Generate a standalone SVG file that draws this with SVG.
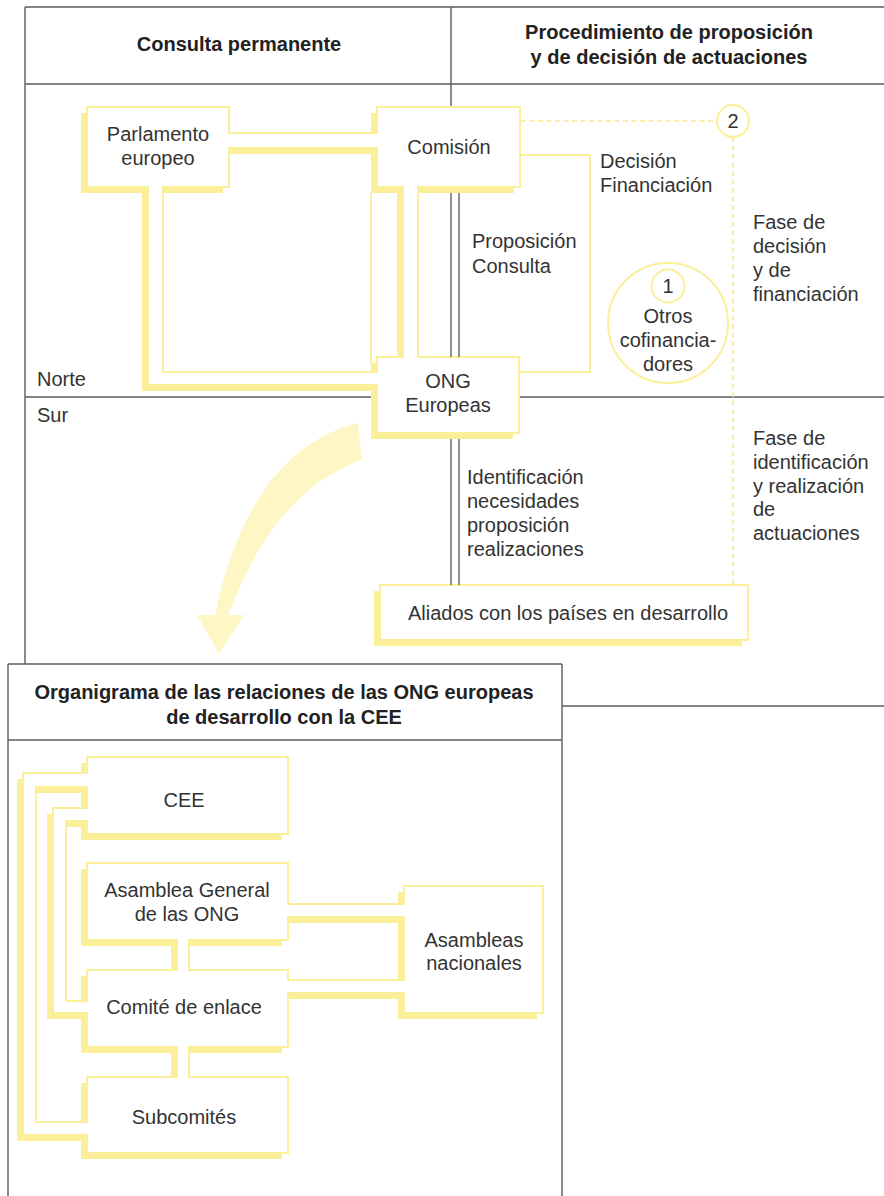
<svg xmlns="http://www.w3.org/2000/svg" width="884" height="1196" viewBox="0 0 884 1196">
<style>
.t{font-family:"Liberation Sans",Arial,sans-serif;font-size:20px;fill:#333}
.h{font-family:"Liberation Sans",Arial,sans-serif;font-size:20px;font-weight:bold;fill:#222}
.c{text-anchor:middle}
.fr{stroke:#5c5c5c;stroke-width:1.4;fill:none}
.sh{fill:#fcef99}
.bx{fill:#fff;stroke:#fcef99;stroke-width:2}
.y{fill:#fcef99}
.w{fill:#fff}
.yl{fill:none;stroke:#fcef99;stroke-width:2}
.ds{fill:none;stroke:#f8e88c;stroke-width:1.6;stroke-dasharray:5 3.5}
.dl{stroke:#555;stroke-width:1.3;fill:none}
</style>
<rect width="884" height="1196" fill="#fff"/>
<g id="frame" class="fr">
<path d="M25,7H884M25,84H884M451,7V108M25,7V664M25,397H884M562,706H884M8,664H562M8,664V1196M562,664V1196M8,740H562"/>
</g>
<g id="headers">
<text class="h c" x="239" y="51">Consulta permanente</text>
<text class="h c" x="669" y="39">Procedimiento de proposición</text>
<text class="h c" x="669" y="64">y de decisión de actuaciones</text>
<text class="h c" x="284" y="699">Organigrama de las relaciones de las ONG europeas</text>
<text class="h c" x="284" y="724">de desarrollo con la CEE</text>
</g>
<path id="arrow" d="M358,423 Q250,450 215,615 L197,615 L219,654 L244,615 L228,615 Q275,490 362,460 Z" fill="#fef6c4"/>
<g id="parlamento">
<rect class="sh" x="81" y="113" width="142" height="80"/>
<rect class="bx" x="87" y="107" width="142" height="80"/>
<text class="t c" x="158" y="141">Parlamento</text>
<text class="t c" x="158" y="165">europeo</text>
</g>
<g id="comision">
<rect class="sh" x="371" y="113" width="143" height="80"/>
<rect class="bx" x="377" y="107" width="143" height="80"/>
<text class="t c" x="449" y="154">Comisión</text>
</g>
<g id="ong">
<rect class="sh" x="371" y="363" width="142" height="76"/>
<rect class="bx" x="377" y="357" width="142" height="76"/>
<text class="t c" x="448" y="388">ONG</text>
<text class="t c" x="448" y="412">Europeas</text>
</g>
<g id="aliados">
<rect class="sh" x="374" y="591" width="368" height="55"/>
<rect class="bx" x="380" y="585" width="368" height="55"/>
<text class="t c" x="568" y="620">Aliados con los países en desarrollo</text>
</g>
<g id="otros">
<circle cx="668" cy="323" r="60" fill="#fff" stroke="#fcef99" stroke-width="2"/>
<circle cx="668" cy="286" r="16.5" fill="#fff" stroke="#fcef99" stroke-width="2"/>
<text class="t c" x="668" y="293">1</text>
<text class="t c" x="668" y="323">Otros</text>
<text class="t c" x="668" y="347">cofinancia-</text>
<text class="t c" x="668" y="371">dores</text>
</g>
<g id="fase2">
<circle cx="733" cy="121" r="16" fill="#fff" stroke="#fcef99" stroke-width="2"/>
<text class="t c" x="733" y="128">2</text>
</g>
<g id="cee">
<rect class="sh" x="81" y="763" width="201" height="77"/>
<rect class="bx" x="87" y="757" width="201" height="77"/>
<text class="t c" x="184" y="807">CEE</text>
</g>
<g id="asamblea">
<rect class="sh" x="81" y="869" width="201" height="77"/>
<rect class="bx" x="87" y="863" width="201" height="77"/>
<text class="t c" x="187" y="897">Asamblea General</text>
<text class="t c" x="187" y="921">de las ONG</text>
</g>
<g id="comite">
<rect class="sh" x="81" y="976" width="201" height="77"/>
<rect class="bx" x="87" y="970" width="201" height="77"/>
<text class="t c" x="184" y="1014">Comité de enlace</text>
</g>
<g id="subcomites">
<rect class="sh" x="81" y="1083" width="201" height="76"/>
<rect class="bx" x="87" y="1077" width="201" height="76"/>
<text class="t c" x="184" y="1124">Subcomités</text>
</g>
<g id="asambleas-nacionales">
<rect class="sh" x="398" y="892" width="139" height="127"/>
<rect class="bx" x="404" y="886" width="139" height="127"/>
<text class="t c" x="474" y="947">Asambleas</text>
<text class="t c" x="474" y="970">nacionales</text>
</g>
<g id="connectors">
<rect class="w" x="228" y="134" width="150" height="13"/>
<rect class="y" x="229" y="132" width="148" height="2"/>
<rect class="y" x="229" y="147" width="148" height="7"/>
<rect class="w" x="149" y="186" width="13" height="9"/>
<rect class="w" x="369" y="373" width="10" height="11"/>
<rect class="y" x="142" y="187" width="7" height="204"/>
<rect class="y" x="142" y="384" width="235" height="7"/>
<rect class="y" x="162" y="193" width="2" height="180"/>
<rect class="y" x="162" y="371" width="209" height="2"/>
<rect class="w" x="404" y="186" width="13" height="8"/>
<rect class="w" x="404" y="355" width="13" height="4"/>
<rect class="y" x="397" y="193" width="7" height="164"/>
<rect class="y" x="417" y="193" width="2" height="164"/>
<rect class="y" x="370" y="193" width="2" height="170"/>
<path class="yl" d="M521,155H590V372H520"/>
<path class="ds" d="M521,121H717M733,137V584"/>
<path class="dl" d="M451,193V357M459,193V357M451,439V585M459,439V585"/>
<rect class="w" x="79" y="774" width="9" height="12"/>
<rect class="w" x="79" y="1123" width="9" height="11"/>
<rect class="y" x="22" y="772" width="64" height="2"/>
<rect class="y" x="22" y="772" width="2" height="364"/>
<rect class="y" x="17" y="779" width="5" height="362"/>
<rect class="y" x="17" y="1134" width="69" height="7"/>
<rect class="y" x="36" y="786" width="50" height="7"/>
<rect class="y" x="35" y="786" width="2" height="337"/>
<rect class="y" x="35" y="1121" width="46" height="2"/>
<rect class="w" x="79" y="809" width="9" height="11"/>
<rect class="w" x="79" y="1002" width="9" height="10"/>
<rect class="y" x="52" y="807" width="34" height="2"/>
<rect class="y" x="52" y="807" width="2" height="207"/>
<rect class="y" x="47" y="814" width="5" height="205"/>
<rect class="y" x="47" y="1012" width="39" height="7"/>
<rect class="y" x="66" y="820" width="20" height="7"/>
<rect class="y" x="65" y="820" width="2" height="182"/>
<rect class="y" x="65" y="1000" width="16" height="2"/>
<rect class="w" x="178" y="938" width="10" height="9"/>
<rect class="w" x="178" y="968" width="10" height="4"/>
<rect class="y" x="171" y="946" width="7" height="24"/>
<rect class="y" x="188" y="946" width="2" height="24"/>
<rect class="w" x="178" y="1045" width="10" height="9"/>
<rect class="w" x="178" y="1075" width="10" height="4"/>
<rect class="y" x="171" y="1053" width="7" height="24"/>
<rect class="y" x="188" y="1053" width="2" height="24"/>
<rect class="w" x="286" y="905" width="4" height="11"/>
<rect class="w" x="396" y="905" width="9" height="11"/>
<rect class="y" x="288" y="903" width="116" height="2"/>
<rect class="y" x="288" y="916" width="116" height="7"/>
<rect class="w" x="286" y="981" width="4" height="11"/>
<rect class="w" x="396" y="981" width="9" height="11"/>
<rect class="y" x="288" y="979" width="116" height="2"/>
<rect class="y" x="288" y="992" width="116" height="7"/>
</g>
<g id="labels">
<text class="t" x="37" y="386">Norte</text>
<text class="t" x="37" y="422">Sur</text>
<text class="t" x="600" y="168">Decisión</text>
<text class="t" x="600" y="192">Financiación</text>
<text class="t" x="472" y="248">Proposición</text>
<text class="t" x="472" y="273">Consulta</text>
<text class="t" x="753" y="229">Fase de</text>
<text class="t" x="753" y="253">decisión</text>
<text class="t" x="753" y="277">y de</text>
<text class="t" x="753" y="301">financiación</text>
<text class="t" x="753" y="445">Fase de</text>
<text class="t" x="753" y="469">identificación</text>
<text class="t" x="753" y="493">y realización</text>
<text class="t" x="753" y="516">de</text>
<text class="t" x="753" y="540">actuaciones</text>
<text class="t" x="467" y="484">Identificación</text>
<text class="t" x="467" y="508">necesidades</text>
<text class="t" x="467" y="532">proposición</text>
<text class="t" x="467" y="556">realizaciones</text>
</g>
</svg>
